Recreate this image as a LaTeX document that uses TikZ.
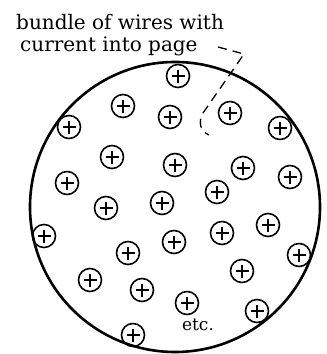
\documentclass[tikz,border=0pt]{standalone}
\usepackage{fontspec}
\setmainfont{DejaVu Serif}
\begin{document}
\begin{tikzpicture}[x=1pt,y=-1pt,
  wire/.style={circle,draw,line width=1.6pt,minimum size=23pt,inner sep=0pt,
    path picture={
      \draw[line width=2pt] ([xshift=-6.5pt]path picture bounding box.center) -- ([xshift=6.5pt]path picture bounding box.center);
      \draw[line width=2pt] ([yshift=-6.5pt]path picture bounding box.center) -- ([yshift=6.5pt]path picture bounding box.center);
    }},
  bundlestyle/.style={circle,draw,line width=2.6pt,minimum size=290pt,inner sep=0pt},
  lbl/.style={anchor=base west,inner sep=0pt,font=\fontsize{20}{22}\selectfont},
  leader/.style={line width=1.3pt,dash pattern=on 9pt off 6pt}]
\useasboundingbox (0,0) rectangle (327,354);
\node[bundlestyle] (bundle) at (175,207) {};
\node[lbl] (l1) at (16,29) {bundle of wires with};
\node[lbl] (l2) at (20,51) {current into page};
\foreach \n/\x/\y in {1/178/76,2/123/106,3/170/117,4/230/113,5/69/127,6/280/128,
  7/112/157,8/175/165,9/243/168,10/290/177,11/67/183,12/217/192,13/106/208,
  14/162/203,15/268/225,16/44/236,17/222/233,18/174/242,19/128/253,20/299/255,
  21/90/280,22/242/271,23/142/290,24/187/303,25/257/311,26/133/335}
  \node[wire] (w\n) at (\x,\y) {};
\node[anchor=base,inner sep=0pt,font=\fontsize{17}{19}\selectfont] (etc) at (198,330) {etc.};
\coordinate (p0) at (218,47);
\coordinate (p1) at (244,54);
\coordinate (p2) at (203,113);
\coordinate (p3) at (209,135);
\draw[leader] (p0) -- (p1) -- (p2) .. controls (198,122) and (200,131) .. (p3);
\end{tikzpicture}
\end{document}
